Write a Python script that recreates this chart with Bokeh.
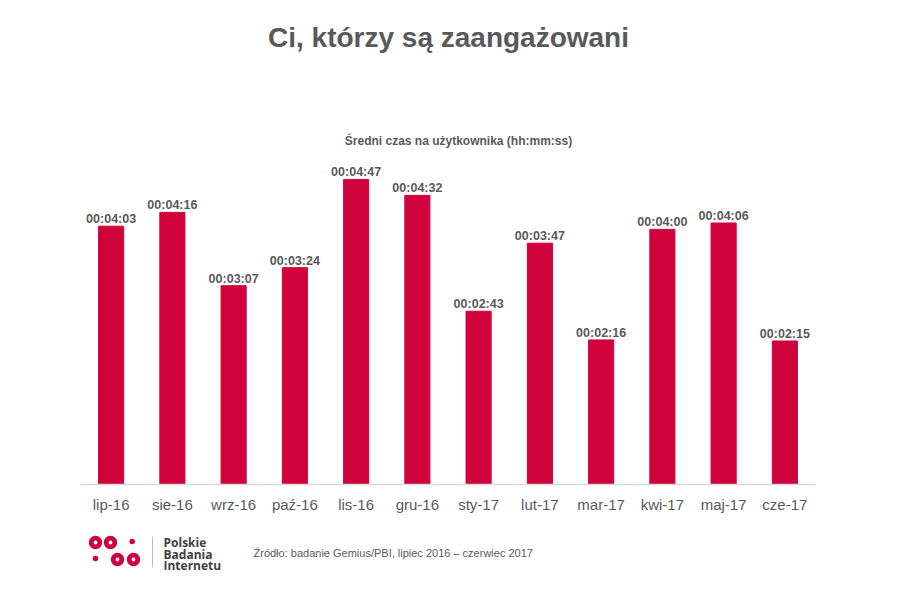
from bokeh.plotting import figure
from bokeh.layouts import column
from bokeh.models import Range1d, FactorRange, ColumnDataSource
from bokeh.core.properties import value
from bokeh.embed import file_html
from bokeh.resources import INLINE

months = ["lip-16", "sie-16", "wrz-16", "paź-16", "lis-16", "gru-16",
          "sty-17", "lut-17", "mar-17", "kwi-17", "maj-17", "cze-17"]
seconds = [243, 256, 187, 204, 287, 272, 163, 227, 136, 240, 246, 135]
labels = ["00:04:03", "00:04:16", "00:03:07", "00:03:24", "00:04:47", "00:04:32",
          "00:02:43", "00:03:47", "00:02:16", "00:04:00", "00:04:06", "00:02:15"]

title_text = "Ci, którzy są zaangażowani"
subtitle_text = "Średni czas na użytkownika (hh:mm:ss)"
source_text = "Źródło: badanie Gemius/PBI, lipiec  2016 – czerwiec 2017"
logo_lines = ["Polskie", "Badania", "Internetu"]

RED = "#D0023C"
GRAY = "#595959"
FONT = value("Liberation Sans")

W = 884
LEFT, RIGHT = 80, 815  # frame edges (page px)
HEAD_H = 152

def blank(h, y0, y1):
    f = figure(width=W, height=h, x_range=Range1d(LEFT, RIGHT), y_range=Range1d(y1, y0),
               output_backend="svg", toolbar_location=None,
               min_border_left=LEFT, min_border_right=W - RIGHT,
               min_border_top=0, min_border_bottom=0)
    f.axis.visible = False
    f.grid.visible = False
    f.outline_line_color = None
    return f

# header (page y 0..HEAD_H)
head = blank(HEAD_H, 0, HEAD_H)
head.text(x=[448], y=[37], text=[title_text], text_font=FONT, text_font_size="28px",
          text_font_style="bold", text_color=GRAY, text_align="center",
          text_baseline="middle")
head.text(x=[458], y=[140], text=[subtitle_text], text_font=FONT, text_font_size="12px",
          text_font_style="bold", text_color=GRAY, text_align="center",
          text_baseline="middle")

# main chart (page y HEAD_H..517)
MAIN_H = 517 - HEAD_H
BOTTOM = 33
src = ColumnDataSource(dict(m=months, s=seconds, lab=labels))
p = figure(width=W, height=MAIN_H, x_range=FactorRange(*months, range_padding=0),
           y_range=Range1d(0, (484 - HEAD_H) / 1.063), output_backend="svg",
           toolbar_location=None,
           min_border_left=LEFT, min_border_right=W - RIGHT, min_border_top=0,
           min_border_bottom=BOTTOM)
p.vbar(x="m", top="s", width=0.41, source=src, color=RED)
p.text(x="m", y="s", text="lab", source=src, text_font=FONT, text_font_size="12.5px",
       text_font_style="bold", text_color=GRAY, text_align="center",
       text_baseline="alphabetic", y_offset=-7)
p.yaxis.visible = False
p.grid.visible = False
p.outline_line_color = None
p.xaxis.axis_line_color = "#d9d9d9"
p.xaxis.axis_line_width = 1.5
p.xaxis.major_tick_line_color = None
p.xaxis.minor_tick_line_color = None
p.xaxis.major_tick_out = 0
p.xaxis.major_label_standoff = 11
p.xaxis.major_label_text_font = "Liberation Sans"
p.xaxis.major_label_text_font_size = "15px"
p.xaxis.major_label_text_color = GRAY

# footer (page y 517..584)
foot = blank(67, 517, 584)
foot.scatter(x=[95, 110, 117, 133], y=[542, 542, 559, 559], size=8.6, marker="circle",
             fill_color=None, line_color=RED, line_width=4.8)
foot.scatter(x=[131.7, 95], y=[541, 558], size=5.5, marker="circle", fill_color=RED,
             line_color=None)
foot.segment(x0=[152], y0=[536], x1=[152], y1=[567], line_color="#bbbbbb", line_width=1)
foot.text(x=[163, 163, 163], y=[542, 553.5, 565], text=logo_lines, text_font=value("Open Sans"),
          text_font_size="12px", text_font_style="bold", text_color="#404040",
          text_baseline="middle")
foot.text(x=[253], y=[552], text=[source_text], text_font=FONT, text_font_size="11px",
          text_color=GRAY, text_baseline="middle")

layout = column(head, p, foot, spacing=0)
open("out.html", "w").write(file_html(layout, INLINE))
